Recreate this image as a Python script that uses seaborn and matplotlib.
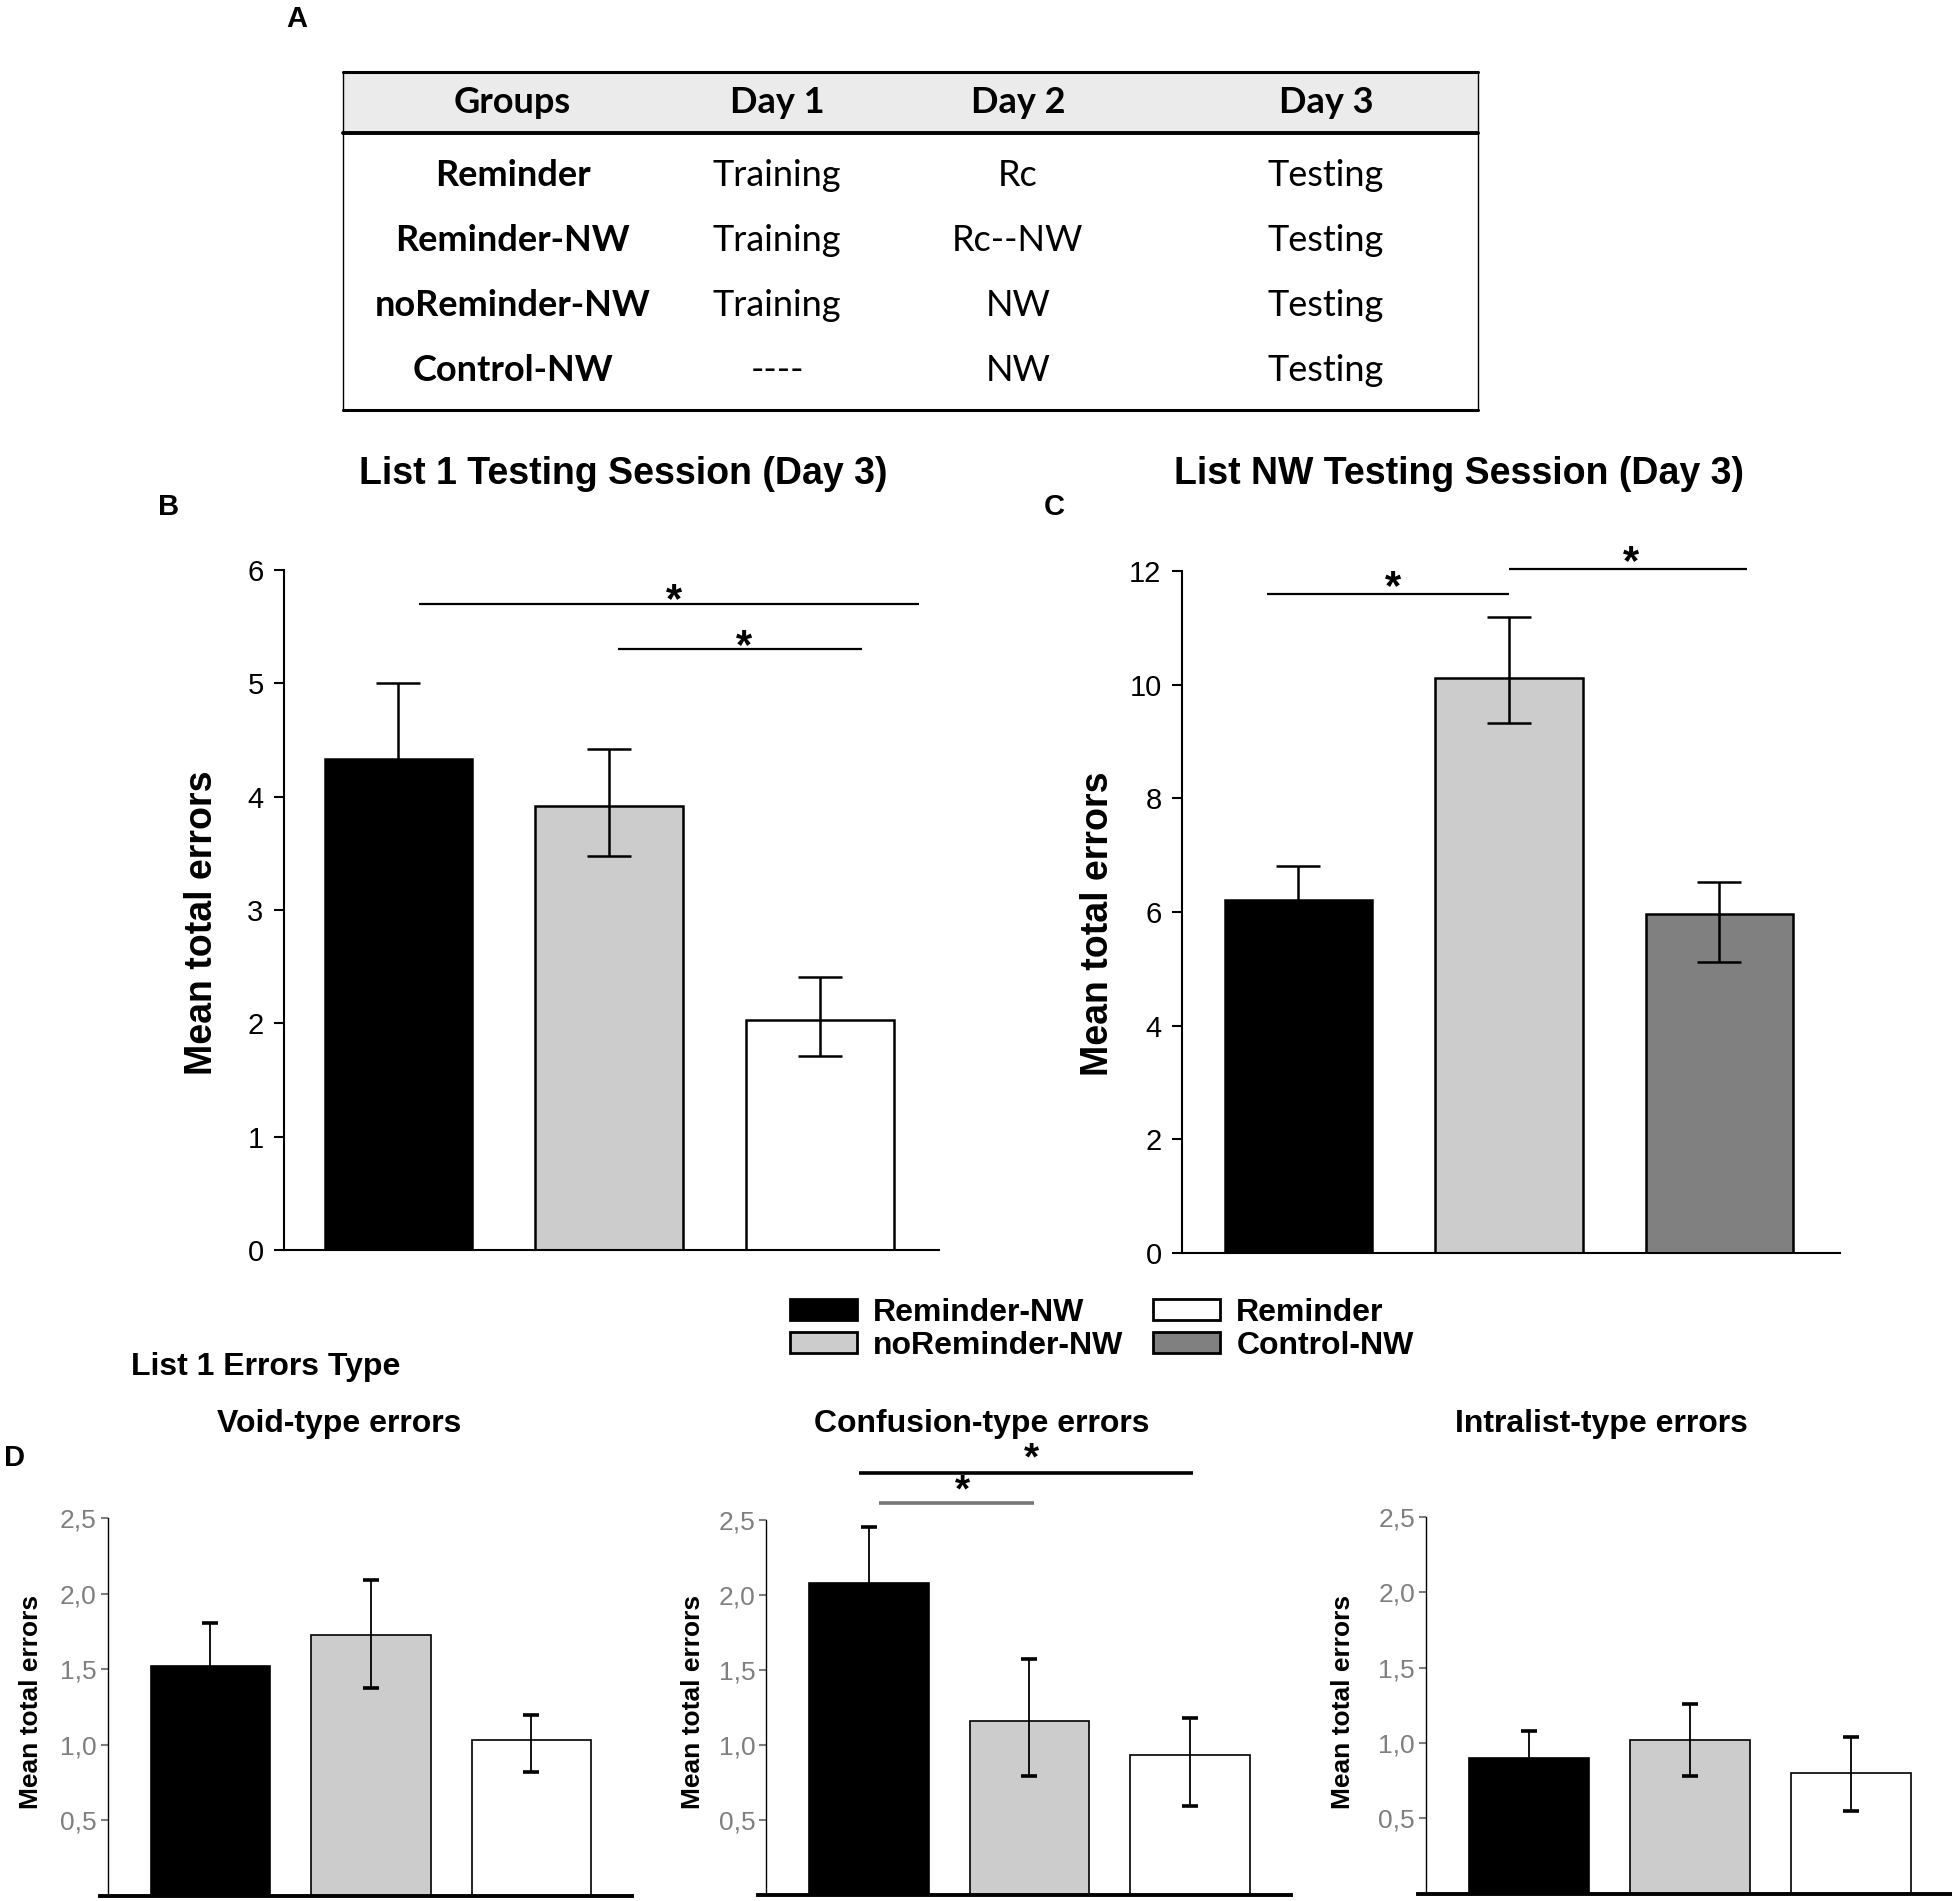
import matplotlib
matplotlib.use("Agg")
import numpy as np
import pandas as pd
import seaborn as sns
import matplotlib.pyplot as plt
from matplotlib.patches import Patch, Rectangle

# ---------- data ----------
table_header = ["Groups", "Day 1", "Day 2", "Day 3"]
table_groups = ["Reminder", "Reminder-NW", "noReminder-NW", "Control-NW"]
table_day1 = ["Training", "Training", "Training", "----"]
table_day2 = ["Rc", "Rc--NW", "NW", "NW"]
table_day3 = ["Testing", "Testing", "Testing", "Testing"]

# panel B: list 1 testing
b_groups = ["Reminder-NW", "noReminder-NW", "Reminder"]
b_means = [4.33, 3.92, 2.03]
b_err_lo = [0.67, 0.44, 0.32]
b_err_hi = [0.67, 0.50, 0.38]

# panel C: list NW testing
c_groups = ["Reminder-NW", "noReminder-NW", "Control-NW"]
c_means = [6.21, 10.12, 5.96]
c_err_lo = [0.60, 0.79, 0.85]
c_err_hi = [0.60, 1.07, 0.56]

# panel D: error types (groups as in B)
d_titles = ["Void-type errors", "Confusion-type errors", "Intralist-type errors"]
void_means = [1.52, 1.73, 1.03]
void_lo = [0.29, 0.35, 0.21]
void_hi = [0.29, 0.36, 0.17]
conf_means = [2.08, 1.16, 0.93]
conf_lo = [0.37, 0.37, 0.34]
conf_hi = [0.37, 0.41, 0.25]
intra_means = [0.90, 1.02, 0.80]
intra_lo = [0.18, 0.24, 0.25]
intra_hi = [0.18, 0.24, 0.24]
d_ticks = [0.5, 1.0, 1.5, 2.0, 2.5]
d_ticklabels = ["0,5", "1,0", "1,5", "2,0", "2,5"]

PALETTE = {"Reminder-NW": "#000000", "noReminder-NW": "#cccccc",
           "Reminder": "#ffffff", "Control-NW": "#808080"}
legend_order = ["Reminder-NW", "noReminder-NW", "Reminder", "Control-NW"]

# ---------- style ----------
sns.set_theme(style="white", rc={"axes.edgecolor": "black", "text.color": "black",
                                 "xtick.color": "black", "ytick.color": "black",
                                 "axes.labelcolor": "black"})
plt.rcParams["font.family"] = ["Liberation Sans", "DejaVu Sans"]

W, H = 1565.0, 1525.0   # layout grid of the reference


def rect(x0, x1, y0, y1):
    return [x0 / W, 1 - y1 / H, (x1 - x0) / W, (y1 - y0) / H]


def fx(x):
    return x / W


def fy(y):
    return 1 - y / H


fig = plt.figure(figsize=(19.52, 19.01), dpi=100)
fig.patch.set_facecolor("white")

# ---------- A: table ----------
tab = fig.add_axes(rect(270, 1190, 50, 337))
tab.set_xlim(270, 1190)
tab.set_ylim(337, 50)
tab.axis("off")
tab.add_patch(Rectangle((275, 58), 910, 49, facecolor="#ebebeb", edgecolor="none"))
tab.plot([275, 1185], [58, 58], color="black", lw=2.2)
tab.plot([275, 1185], [107, 107], color="black", lw=2.8)
tab.plot([275, 1185], [329, 329], color="black", lw=2.2)
tab.plot([275, 275], [58, 329], color="black", lw=1.0)
tab.plot([1185, 1185], [58, 329], color="black", lw=1.0)
col_x = [411, 623, 816, 1063]
row_y = [141, 193, 245, 297]
tfont = ["Lato", "DejaVu Sans"]
for cx, h in zip(col_x, table_header):
    tab.text(cx, 82, h, ha="center", va="center", fontsize=26, fontweight="bold", family=tfont)
for i, ry in enumerate(row_y):
    tab.text(col_x[0], ry, table_groups[i], ha="center", va="center", fontsize=26,
             fontweight="bold", family=tfont)
    tab.text(col_x[1], ry, table_day1[i], ha="center", va="center", fontsize=26, family=tfont)
    tab.text(col_x[2], ry, table_day2[i], ha="center", va="center", fontsize=26, family=tfont)
    tab.text(col_x[3], ry, table_day3[i], ha="center", va="center", fontsize=26, family=tfont)

fig.text(fx(238), fy(15), "A", ha="center", va="center", fontsize=21, fontweight="bold")


# ---------- B / C ----------
def big_panel(r, groups, means, lo, hi, ymax, ystep, xlim):
    ax = fig.add_axes(r)
    df = pd.DataFrame({"group": groups, "mean": means})
    sns.barplot(data=df, x="group", y="mean", hue="group", palette=PALETTE, width=0.7,
                edgecolor="black", linewidth=1.8, legend=False, errorbar=None, ax=ax)
    ax.errorbar(np.arange(len(means)), means, yerr=[lo, hi], fmt="none", ecolor="black",
                elinewidth=1.8, capsize=16, capthick=1.8, zorder=5)
    ax.set_xlim(*xlim)
    ax.set_ylim(0, ymax)
    ax.set_yticks(np.arange(0, ymax + 0.1, ystep))
    ax.set_xticks([])
    ax.set_xlabel("")
    ax.set_ylabel("")
    ax.tick_params(axis="y", direction="out", length=7, width=1.5, pad=8, labelsize=21, left=True)
    sns.despine(ax=ax)
    for s in ("left", "bottom"):
        ax.spines[s].set_linewidth(1.5)
    return ax


def sig(ax, x0, x1, y, sx, sy, lw=1.6, color="black", fs=30):
    ax.plot([x0, x1], [y, y], color=color, lw=lw, clip_on=False, solid_capstyle="butt")
    ax.text(sx, sy, "*", ha="center", va="center", fontsize=fs, fontweight="bold", clip_on=False)


axB = big_panel(rect(228, 753, 457, 1003), b_groups, b_means, b_err_lo, b_err_hi, 6, 1, (-0.541, 2.566))
sig(axB, 0.10, 2.47, 5.70, 1.31, 5.72)
sig(axB, 1.04, 2.20, 5.30, 1.64, 5.32)

axC = big_panel(rect(948, 1475, 458, 1005), c_groups, c_means, c_err_lo, c_err_hi, 12, 2, (-0.551, 2.572))
sig(axC, -0.15, 1.0, 11.6, 0.45, 11.7)
sig(axC, 1.0, 2.13, 12.04, 1.58, 12.14)

fig.text(fx(500), fy(380), "List 1 Testing Session (Day 3)", ha="center", va="center",
         fontsize=27, fontweight="bold")
fig.text(fx(1170), fy(380), "List NW Testing Session (Day 3)", ha="center", va="center",
         fontsize=27, fontweight="bold")
fig.text(fx(135), fy(407), "B", ha="center", va="center", fontsize=21, fontweight="bold")
fig.text(fx(845), fy(407), "C", ha="center", va="center", fontsize=21, fontweight="bold")
fig.text(fx(162), fy(740), "Mean total errors", rotation=90, ha="center", va="center",
         fontsize=27, fontweight="bold")
fig.text(fx(880), fy(741), "Mean total errors", rotation=90, ha="center", va="center",
         fontsize=27, fontweight="bold")

# ---------- legend ----------
handles = [Patch(facecolor=PALETTE[g], edgecolor="black", linewidth=2) for g in legend_order]
fig.legend(handles, legend_order, ncol=2, loc="upper left", bbox_to_anchor=(fx(633), fy(1041)),
           frameon=False, borderpad=0, borderaxespad=0, handlelength=2.1, handleheight=0.6,
           handletextpad=0.5, columnspacing=0.95, labelspacing=0.1,
           prop={"weight": "bold", "size": 23})

# ---------- D ----------
fig.text(fx(105), fy(1097), "List 1 Errors Type", ha="left", va="center", fontsize=23, fontweight="bold")
fig.text(fx(12), fy(1170), "D", ha="center", va="center", fontsize=21, fontweight="bold")


def small_panel(r, means, lo, hi):
    ax = fig.add_axes(r)
    df = pd.DataFrame({"group": b_groups, "mean": means})
    sns.barplot(data=df, x="group", y="mean", hue="group", palette=PALETTE, width=0.745,
                edgecolor="black", linewidth=1.2, legend=False, errorbar=None, ax=ax)
    ax.errorbar(np.arange(3), means, yerr=[lo, hi], fmt="none", ecolor="black",
                elinewidth=1.3, capsize=6, capthick=2.6, zorder=5)
    ax.set_xlim(-0.69, 2.63)
    ax.set_ylim(0, 2.5)
    sns.despine(ax=ax)
    # moving the spine resets the ticks, so do it before styling them
    ax.spines["left"].set_position(("data", -0.64))
    ax.spines["left"].set_linewidth(1.0)
    ax.spines["bottom"].set_linewidth(2.8)
    ax.set_xticks([])
    ax.set_xlabel("")
    ax.set_ylabel("")
    ax.tick_params(axis="y", direction="out", length=5, width=1.5, color="#7f7f7f", pad=3, left=True)
    ax.set_yticks(d_ticks)
    ax.set_yticklabels(d_ticklabels, color="#7f7f7f", fontsize=19,
                       family=["Liberation Sans Narrow", "Liberation Sans"])
    return ax


d_rects = [rect(80, 507, 1218, 1521), rect(608, 1035, 1219, 1520), rect(1137, 1565, 1217, 1519)]
d_data = [(void_means, void_lo, void_hi), (conf_means, conf_lo, conf_hi), (intra_means, intra_lo, intra_hi)]
d_axes = []
for r, (m, lo, hi) in zip(d_rects, d_data):
    d_axes.append(small_panel(r, m, lo, hi))

sig(d_axes[1], -0.06, 2.02, 2.81, 1.01, 2.90, lw=2.6, fs=28)
sig(d_axes[1], 0.06, 1.03, 2.61, 0.58, 2.69, lw=2.6, color="#777777", fs=28)

for cx, t in zip([272, 787, 1284], d_titles):
    fig.text(fx(cx), fy(1142), t, ha="center", va="center", fontsize=23, fontweight="bold")
for lx in [25, 556, 1077]:
    fig.text(fx(lx), fy(1365), "Mean total errors", rotation=90, ha="center", va="center",
             fontsize=19, fontweight="bold")

fig.savefig("out.png", dpi=100, facecolor="white")
